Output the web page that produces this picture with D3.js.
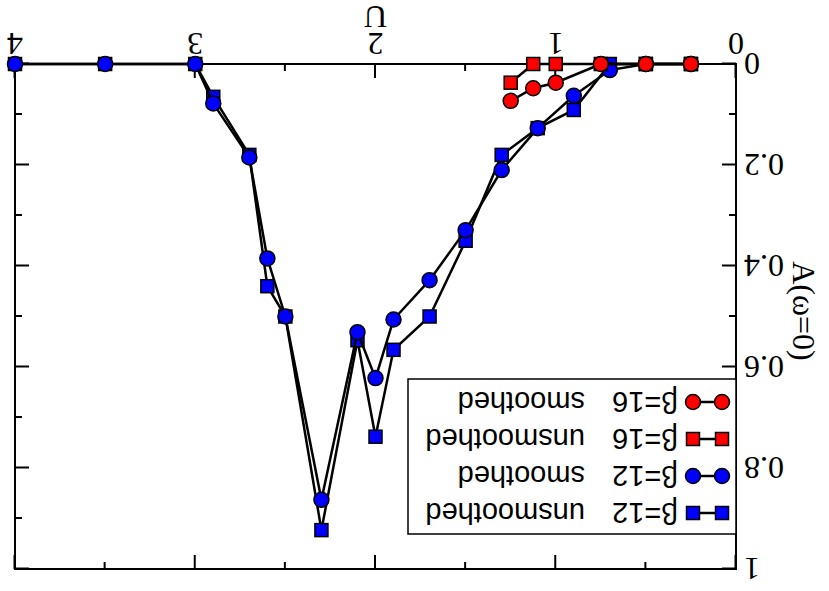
<!DOCTYPE html>
<html>
<head>
<meta charset="utf-8">
<script src="https://cdn.jsdelivr.net/npm/d3@7"></script>
<style>
  body { margin: 0; background: #fff; }
  svg { display: block; }
</style>
</head>
<body>
<svg width="829" height="591"></svg>
<script>
// Data, read from the (upside-down) picture
var u12 = [4, 3.5, 3, 2.9, 2.7, 2.6, 2.5, 2.3, 2.1, 2.0, 1.9, 1.7, 1.5, 1.3, 1.1, 0.9, 0.7, 0.5, 0.25];
var a12_unsmoothed = [0, 0, 0, 0.065, 0.18, 0.44, 0.50, 0.923, 0.547, 0.738, 0.566, 0.50, 0.35, 0.18, 0.127, 0.091, 0, 0, 0];
var a12_smoothed   = [0, 0, 0, 0.078, 0.185, 0.385, 0.50, 0.863, 0.531, 0.622, 0.506, 0.428, 0.329, 0.21, 0.127, 0.063, 0.012, 0, 0];
var u16 = [1.25, 1.125, 1.0, 0.75, 0.5, 0.25];
var a16_unsmoothed = [0.037, 0, 0, 0, 0, 0];
var a16_smoothed   = [0.073, 0.048, 0.037, 0, 0, 0];

var legend_beta = ["\u03b2=12", "\u03b2=12", "\u03b2=16", "\u03b2=16"];
var legend_kind = ["unsmoothed", "smoothed", "unsmoothed", "smoothed"];

var x_ticks = [0, 1, 2, 3, 4];
var y_ticks = [0, 0.2, 0.4, 0.6, 0.8, 1];

var W = 829, H = 591;
var m_left = 93, m_right = 814, m_top = 22, m_bottom = 527;

var series = [
  {u: u12, a: a12_unsmoothed, color: "#0000ff", shape: "square"},
  {u: u12, a: a12_smoothed,   color: "#0000ff", shape: "circle"},
  {u: u16, a: a16_unsmoothed, color: "#ff0000", shape: "square"},
  {u: u16, a: a16_smoothed,   color: "#ff0000", shape: "circle"}
];

var x = d3.scaleLinear().domain([0, 4]).range([m_left, m_right]);
var y = d3.scaleLinear().domain([0, 1]).range([m_bottom, m_top]);

var svg = d3.select("svg");
// the whole chart is drawn upside down, as in the picture
var g = svg.append("g").attr("transform", "rotate(180," + W / 2 + "," + H / 2 + ")");

var serif = "'Liberation Serif', 'Times New Roman', serif";
var sans = "'Liberation Sans', Arial, sans-serif";

// axes: ticks inward, mirrored on the opposite side
var x_minor = [0.5, 1.5, 2.5, 3.5];
var y_minor = [0.1, 0.3, 0.5, 0.7, 0.9];
var axes = [
  [d3.axisBottom(x).tickValues(x_ticks).tickSize(-14), "translate(0," + m_bottom + ")"],
  [d3.axisBottom(x).tickValues(x_minor).tickSize(-7), "translate(0," + m_bottom + ")"],
  [d3.axisTop(x).tickValues(x_ticks).tickSize(-14), "translate(0," + m_top + ")"],
  [d3.axisTop(x).tickValues(x_minor).tickSize(-7), "translate(0," + m_top + ")"],
  [d3.axisLeft(y).tickValues(y_ticks).tickSize(-14), "translate(" + m_left + ",0)"],
  [d3.axisLeft(y).tickValues(y_minor).tickSize(-7), "translate(" + m_left + ",0)"],
  [d3.axisRight(y).tickValues(y_ticks).tickSize(-14), "translate(" + m_right + ",0)"],
  [d3.axisRight(y).tickValues(y_minor).tickSize(-7), "translate(" + m_right + ",0)"]
];
axes.forEach(function(p) {
  var a = g.append("g").attr("transform", p[1]).call(p[0].tickFormat(""));
  a.select(".domain").remove();
  a.selectAll("line").attr("stroke", "#000").attr("stroke-width", 2);
});

g.append("rect")
  .attr("x", m_left).attr("y", m_top)
  .attr("width", m_right - m_left).attr("height", m_bottom - m_top)
  .attr("fill", "none").attr("stroke", "#000").attr("stroke-width", 2);

// tick labels
g.append("g").selectAll("text").data(x_ticks).enter().append("text")
  .attr("x", d => x(d)).attr("y", m_bottom + 31)
  .attr("text-anchor", "middle")
  .attr("font-family", serif).attr("font-size", 32)
  .text(d => d);

g.append("g").selectAll("text").data(y_ticks).enter().append("text")
  .attr("x", m_left - 8).attr("y", d => y(d)).attr("dy", "0.34em")
  .attr("text-anchor", "end")
  .attr("font-family", serif).attr("font-size", 32)
  .text(d => d);

g.append("text")
  .attr("x", (m_left + m_right) / 2).attr("y", m_bottom + 58)
  .attr("text-anchor", "middle")
  .attr("font-family", serif).attr("font-size", 32)
  .text("U");

g.append("text")
  .attr("transform", "translate(36,280) rotate(-90)")
  .attr("text-anchor", "middle")
  .attr("font-family", serif).attr("font-size", 32)
  .text("A(\u03c9=0)");

// lines and markers
var line = d3.line().x(d => x(d[0])).y(d => y(d[1]));

function marker(sel, shape, color) {
  if (shape === "circle") {
    sel.append("circle").attr("r", 7.5);
  } else {
    sel.append("rect").attr("x", -6.5).attr("y", -6.5).attr("width", 13).attr("height", 13);
  }
  sel.selectAll("circle,rect").attr("fill", color).attr("stroke", "#000").attr("stroke-width", 1.5);
}

series.forEach(function(s) {
  var pts = s.u.map((u, i) => [u, s.a[i]]);
  g.append("path").datum(pts)
    .attr("d", line).attr("fill", "none")
    .attr("stroke", "#000").attr("stroke-width", 2.5);
  g.append("g").selectAll("g").data(pts).enter().append("g")
    .attr("transform", d => "translate(" + x(d[0]) + "," + y(d[1]) + ")")
    .each(function() { marker(d3.select(this), s.shape, s.color); });
});

// legend
var lg = g.append("g");
lg.append("rect")
  .attr("x", m_left).attr("y", 57)
  .attr("width", 328).attr("height", 155)
  .attr("fill", "#fff").attr("stroke", "#000").attr("stroke-width", 1.5);

var rows = lg.selectAll("g.row").data(series).enter().append("g")
  .attr("class", "row")
  .attr("transform", (d, i) => "translate(0," + (78 + i * 37) + ")");

rows.append("line").attr("x1", 107).attr("x2", 136)
  .attr("stroke", "#000").attr("stroke-width", 2.5);
rows.each(function(d) {
  var r = d3.select(this);
  [107, 136].forEach(function(mx) {
    marker(r.append("g").attr("transform", "translate(" + mx + ",0)"), d.shape, d.color);
  });
});
rows.append("text").attr("x", 151).attr("y", 10)
  .attr("font-family", sans).attr("font-size", 29)
  .text((d, i) => legend_beta[i]);
rows.append("text").attr("x", 244).attr("y", 10)
  .attr("font-family", sans).attr("font-size", 29)
  .text((d, i) => legend_kind[i]);
</script>
</body>
</html>
